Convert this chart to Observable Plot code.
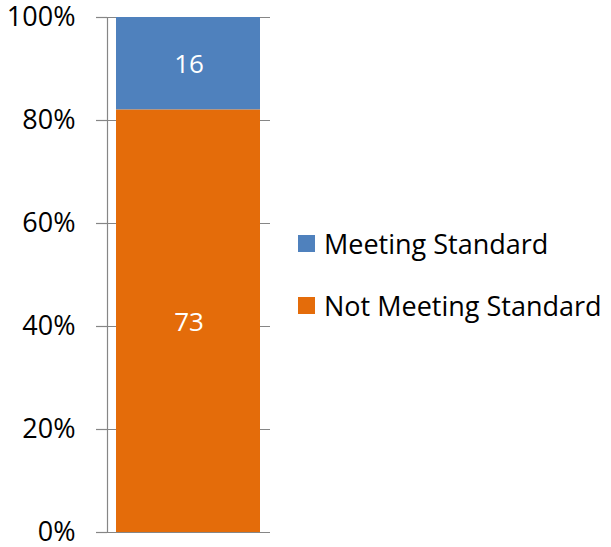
<!DOCTYPE html>
<html>
<head>
<meta charset="utf-8">
<script src="https://cdn.jsdelivr.net/npm/d3@7"></script>
<script src="https://cdn.jsdelivr.net/npm/@observablehq/plot@0.6"></script>
<style>
  body { margin: 0; background: #fff; }
  #wrap { position: relative; width: 611px; height: 547px; font-family: "Open Sans", sans-serif; }
  #legend { position: absolute; left: 298px; top: 226px; font-size: 27px; color: #000; }
  .item { display: flex; align-items: center; height: 34px; margin-bottom: 28px; white-space: nowrap; }
  .sw { width: 17px; height: 17px; margin-right: 9px; }
</style>
</head>
<body>
<div id="wrap"></div>
<script>
const categories = ["Meeting Standard", "Not Meeting Standard"];
const values = [16, 73];
const colors = ["#4F81BD", "#E46C0A"];
const yTicks = [0, 0.2, 0.4, 0.6, 0.8, 1];
const barName = ["All"];

const data = categories.map((c, i) => ({bar: barName[0], status: c, value: values[i]}));
const stackOrder = ["Not Meeting Standard", "Meeting Standard"];

const chart = Plot.plot({
  width: 611,
  height: 547,
  marginTop: 17,
  marginBottom: 15,
  marginLeft: 107,
  marginRight: 341,
  style: {fontFamily: "Open Sans, sans-serif", fontSize: "27px", color: "#000", background: "#fff", overflow: "visible"},
  x: {domain: barName, padding: 0, axis: null},
  y: {domain: [0, 1], ticks: yTicks, tickFormat: d3.format(".0%"), label: null},
  color: {domain: categories, range: colors},
  marks: [
    Plot.ruleY(yTicks, {stroke: "#868686", strokeWidth: 1.2}),
    Plot.barY(data, Plot.stackY({offset: "normalize", order: stackOrder}, {x: "bar", y: "value", z: "status", fill: "status", insetLeft: 9, insetRight: 10})),
    Plot.text(data, Plot.stackY({offset: "normalize", order: stackOrder}, {x: "bar", y: "value", z: "status", text: "value", fill: "white", fontSize: 26, dy: 1})),
    Plot.axisY({ticks: yTicks, tickFormat: d3.format(".0%"), tickSize: 11, tickPadding: 21, stroke: "#868686", strokeWidth: 1.2, fontSize: 27, label: null}),
    Plot.frame({anchor: "left", stroke: "#868686", strokeWidth: 1.2})
  ]
});
document.getElementById("wrap").appendChild(chart);

const legend = document.createElement("div");
legend.id = "legend";
categories.forEach((c, i) => {
  const it = document.createElement("div");
  it.className = "item";
  const sw = document.createElement("div");
  sw.className = "sw";
  sw.style.background = colors[i];
  const t = document.createElement("span");
  t.textContent = c;
  it.appendChild(sw); it.appendChild(t);
  legend.appendChild(it);
});
document.getElementById("wrap").appendChild(legend);
</script>
</body>
</html>
